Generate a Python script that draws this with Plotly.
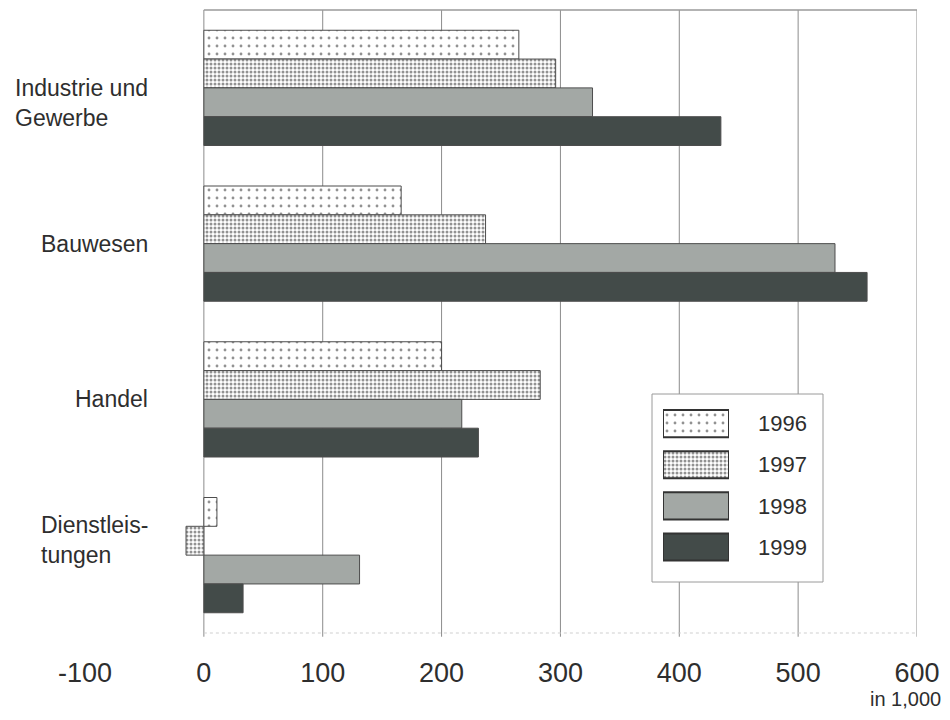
import plotly.graph_objects as go

# ---------------- data ----------------
categories = ["Industrie und Gewerbe", "Bauwesen", "Handel", "Dienstleistungen"]
category_labels = ["Industrie und<br>Gewerbe", "Bauwesen", "Handel", "Dienstleis-<br>tungen"]
years = ["1996", "1997", "1998", "1999"]
v1996 = [265, 166, 200, 11]
v1997 = [296, 237, 283, -15]
v1998 = [327, 531, 217, 131]
v1999 = [435, 558, 231, 33]
series_values = [v1996, v1997, v1998, v1999]
tick_values = [-100, 0, 100, 200, 300, 400, 500, 600]
tick_labels = ["-100", "0", "100", "200", "300", "400", "500", "600"]
unit_label = "in 1,000"

# ---------------- styles / layout geometry ----------------
OFF = 8                      # page body margin in the browser
W, H = 950 - OFF, 720 - OFF
L, R, T, B = 77, 33, 2, 87
PW, PH = W - L - R, H - T - B


def px_x(px):
    """page pixel -> paper x"""
    return (px - OFF - L) / PW


def px_y(py):
    """page pixel -> paper y"""
    return (H - B - (py - OFF)) / PH


styles = [
    dict(color="white", pattern=dict(shape=".", fgcolor="#262626", bgcolor="white", size=8, solidity=0.1)),
    dict(color="white", pattern=dict(shape=".", fgcolor="#262626", bgcolor="white", size=4, solidity=0.45)),
    dict(color="#a3a8a5", pattern=None),
    dict(color="#434b49", pattern=None),
]
label_yshift = [-15, 0, 0, 15]
text_color = "#2e2e2e"
grid_color = "#8c8c8c"
font_family = "Liberation Sans, Arial, sans-serif"

fig = go.Figure()

for name, vals, st in zip(years, series_values, styles):
    marker = dict(color=st["color"], line=dict(color="#4d4d4d", width=1))
    if st["pattern"]:
        marker["pattern"] = st["pattern"]
    fig.add_trace(go.Bar(
        y=categories, x=vals, orientation="h", name=name,
        marker=marker, showlegend=False, hoverinfo="x+name",
    ))

# legend patches as an inset subplot
for name, st in zip(years, styles):
    marker = dict(color=st["color"], line=dict(color="#333333", width=2))
    if st["pattern"]:
        marker["pattern"] = st["pattern"]
    fig.add_trace(go.Bar(
        y=[name], x=[1], orientation="h", name=name, xaxis="x2", yaxis="y2",
        width=0.66, offsetgroup="legend", marker=marker, showlegend=False,
        hoverinfo="skip",
    ))

shapes = []
for v in tick_values:
    if v >= 0:
        shapes.append(dict(type="line", xref="x", yref="paper", x0=v, x1=v,
                           y0=-0.006, y1=1, line=dict(color=grid_color, width=1),
                           layer="below"))
shapes.append(dict(type="line", xref="x", yref="paper", x0=0, x1=tick_values[-1],
                   y0=1, y1=1, line=dict(color="#9a9a9a", width=1.5), layer="below"))
shapes.append(dict(type="line", xref="x", yref="paper", x0=0, x1=tick_values[-1],
                   y0=0, y1=0, line=dict(color="#cfcfcf", width=1, dash="dot"), layer="below"))
# legend box
shapes.append(dict(type="rect", xref="paper", yref="paper",
                   x0=px_x(652), x1=px_x(823), y0=px_y(582), y1=px_y(394),
                   fillcolor="white", line=dict(color="#9a9a9a", width=1), layer="below"))

annotations = []
for cat, lab, ys in zip(categories, category_labels, label_yshift):
    annotations.append(dict(
        text=lab, xref="paper", yref="y", x=px_x(150), y=cat, xanchor="right",
        yanchor="middle", align="left", showarrow=False, yshift=ys,
        font=dict(family=font_family, size=23, color=text_color),
    ))
annotations.append(dict(
    text=unit_label, xref="paper", yref="paper", x=px_x(943), y=px_y(699),
    xanchor="right", yanchor="middle", showarrow=False,
    font=dict(family=font_family, size=20, color=text_color),
))

fig.update_layout(
    width=W, height=H,
    margin=dict(l=L, r=R, t=T, b=B, pad=0),
    paper_bgcolor="white", plot_bgcolor="white",
    barmode="group", bargap=0.26, bargroupgap=0,
    xaxis=dict(range=[tick_values[0], tick_values[-1]], tickvals=tick_values,
               ticktext=tick_labels, showgrid=False, zeroline=False, showline=False,
               ticks="", ticklabelstandoff=21,
               tickfont=dict(family=font_family, size=27, color=text_color)),
    yaxis=dict(type="category", categoryorder="array", categoryarray=categories,
               range=[len(categories) - 0.5, -0.5], showticklabels=False,
               showgrid=False, zeroline=False, showline=False, ticks=""),
    xaxis2=dict(domain=[px_x(663), px_x(729)], range=[0, 1], anchor="y2",
                visible=False, fixedrange=True),
    yaxis2=dict(domain=[px_y(567.6), px_y(403)], anchor="x2", type="category",
                categoryorder="array", categoryarray=years,
                range=[len(years) - 0.5, -0.5], side="right", showgrid=False,
                zeroline=False, showline=False, ticks="", ticklabelstandoff=28,
                tickfont=dict(family=font_family, size=22, color=text_color),
                fixedrange=True),
    shapes=shapes,
    annotations=annotations,
)

fig.write_html("out.html")
